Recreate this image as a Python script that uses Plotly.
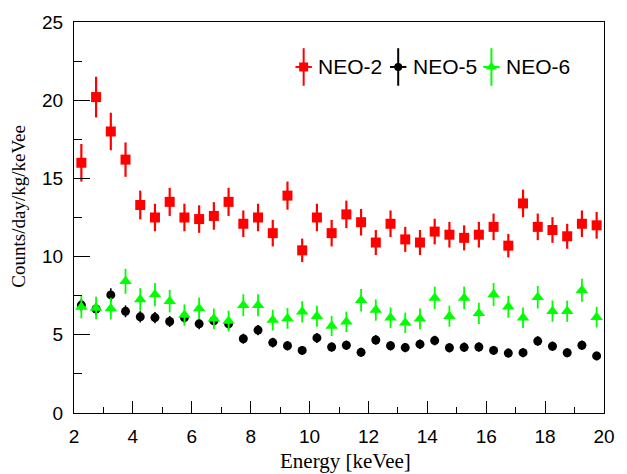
import plotly.graph_objects as go

energy = [2.25, 2.75, 3.25, 3.75, 4.25, 4.75, 5.25, 5.75, 6.25, 6.75, 7.25, 7.75,
          8.25, 8.75, 9.25, 9.75, 10.25, 10.75, 11.25, 11.75, 12.25, 12.75, 13.25, 13.75,
          14.25, 14.75, 15.25, 15.75, 16.25, 16.75, 17.25, 17.75, 18.25, 18.75, 19.25, 19.75]

neo2 = [16.0, 20.2, 18.0, 16.2, 13.3, 12.5, 13.5, 12.5, 12.4, 12.6, 13.5, 12.1,
        12.5, 11.5, 13.9, 10.4, 12.5, 11.5, 12.7, 12.2, 10.9, 12.1, 11.1, 10.9,
        11.6, 11.4, 11.2, 11.4, 11.9, 10.7, 13.4, 11.9, 11.7, 11.3, 12.1, 12.0]
neo2_err = [1.2, 1.3, 1.2, 1.1, 0.92, 0.88, 0.9, 0.88, 0.88, 0.88, 0.9, 0.85,
            0.88, 0.85, 0.9, 0.75, 0.88, 0.85, 0.88, 0.85, 0.8, 0.85, 0.8, 0.8,
            0.82, 0.82, 0.8, 0.82, 0.85, 0.75, 0.88, 0.85, 0.82, 0.8, 0.85, 0.85]

neo5 = [6.9, 6.65, 7.55, 6.5, 6.15, 6.1, 5.85, 6.1, 5.7, 5.9, 5.7, 4.75,
        5.3, 4.5, 4.3, 4.0, 4.8, 4.22, 4.33, 3.88, 4.67, 4.3, 4.18, 4.4,
        4.63, 4.17, 4.2, 4.22, 4.0, 3.83, 3.86, 4.6, 4.27, 3.85, 4.33, 3.65]
neo5_err = [0.4, 0.4, 0.42, 0.38, 0.36, 0.36, 0.35, 0.36, 0.35, 0.35, 0.35, 0.32,
            0.33, 0.31, 0.3, 0.29, 0.32, 0.3, 0.3, 0.29, 0.31, 0.3, 0.3, 0.3,
            0.31, 0.3, 0.3, 0.3, 0.29, 0.29, 0.29, 0.31, 0.3, 0.29, 0.3, 0.28]

neo6 = [6.77, 6.72, 6.68, 8.42, 7.26, 7.57, 7.15, 6.26, 6.68, 6.02, 5.88, 6.89,
        6.89, 5.94, 6.05, 6.47, 6.19, 5.56, 5.83, 7.21, 6.58, 6.09, 5.77, 6.02,
        7.36, 6.19, 7.36, 6.37, 7.57, 6.79, 6.09, 7.40, 6.51, 6.51, 7.85, 6.13]
neo6_err = [0.72, 0.72, 0.7, 0.8, 0.72, 0.74, 0.72, 0.68, 0.7, 0.66, 0.66, 0.7,
            0.7, 0.66, 0.66, 0.68, 0.67, 0.64, 0.65, 0.72, 0.68, 0.66, 0.65, 0.66,
            0.72, 0.67, 0.72, 0.68, 0.74, 0.7, 0.66, 0.72, 0.68, 0.68, 0.74, 0.66]

series_names = ["NEO-2", "NEO-5", "NEO-6"]
colors = ["#ff0000", "#000000", "#00ff00"]
symbols = ["square", "circle", "triangle-up"]
sizes = [10, 9, 11]
bar_widths = [2.2, 1.6, 1.8]

# legend layout (paper fractions)
legend_x = [0.4333, 0.6117, 0.7876]
legend_y = 0.885

fig = go.Figure()
for name, vals, errs, col, sym, sz, bw in zip(series_names, [neo2, neo5, neo6],
                                              [neo2_err, neo5_err, neo6_err],
                                              colors, symbols, sizes, bar_widths):
    fig.add_trace(go.Scatter(
        x=energy, y=vals, mode="markers", name=name,
        marker=dict(symbol=sym, size=sz, color=col, line=dict(width=0)),
        error_y=dict(type="data", array=errs, visible=True, color=col,
                     thickness=bw, width=0),
        showlegend=False))

# custom legend entries drawn on an overlay axis spanning the plot area
for name, col, sym, sz, lx in zip(series_names, colors, symbols, sizes, legend_x):
    fig.add_trace(go.Scatter(
        x=[lx], y=[legend_y], xaxis="x2", yaxis="y2", mode="markers",
        marker=dict(symbol=sym, size=sz - 1, color=col, line=dict(width=0)),
        error_y=dict(type="constant", value=0.048, color=col, thickness=2, width=0),
        error_x=dict(type="constant", value=0.0155, color=col, thickness=2, width=0),
        showlegend=False, hoverinfo="skip"))
    fig.add_annotation(x=lx + 0.0235, y=legend_y, xref="x2", yref="y2",
                       text=name, showarrow=False, xanchor="left", yanchor="middle",
                       font=dict(family="Liberation Sans, Arial", size=21, color="black"))

axis_font = dict(family="Liberation Sans, Arial", size=19, color="black")
fig.update_layout(
    width=627, height=474,
    margin=dict(l=74, r=13, t=19, b=61),
    paper_bgcolor="white", plot_bgcolor="white",
    showlegend=False,
    xaxis=dict(range=[2, 20], dtick=2, tick0=2, ticks="inside", ticklen=12,
               tickwidth=1, tickcolor="black", showline=True, linecolor="black",
               linewidth=1, mirror=True, showgrid=False, zeroline=False,
               tickfont=axis_font, ticklabelstandoff=6,
               minor=dict(dtick=1, ticks="inside", ticklen=6, tickcolor="black",
                          showgrid=False)),
    yaxis=dict(range=[0, 25], dtick=5, tick0=0, ticks="inside", ticklen=16,
               tickwidth=1, tickcolor="black", showline=True, linecolor="black",
               linewidth=1, mirror=True, showgrid=False, zeroline=False,
               tickfont=axis_font, ticklabelstandoff=6,
               minor=dict(dtick=2.5, ticks="inside", ticklen=8, tickcolor="black",
                          showgrid=False)),
    xaxis2=dict(range=[0, 1], overlaying="x", visible=False, fixedrange=True),
    yaxis2=dict(range=[0, 1], overlaying="y", visible=False, fixedrange=True),
)

title_font = dict(family="Liberation Serif, Times New Roman", color="black")
fig.add_annotation(text="Energy [keVee]", xref="paper", yref="paper",
                   x=0.513, y=-0.122, showarrow=False, xanchor="center",
                   yanchor="middle", font=dict(size=21, **title_font))
fig.add_annotation(text="Counts/day/kg/keVee", xref="paper", yref="paper",
                   x=-0.104, y=0.53, showarrow=False, xanchor="center",
                   yanchor="middle", textangle=-90, font=dict(size=19, **title_font))

fig.write_html("out.html", config={"displayModeBar": False},
               post_script="document.body.style.margin='0';")
